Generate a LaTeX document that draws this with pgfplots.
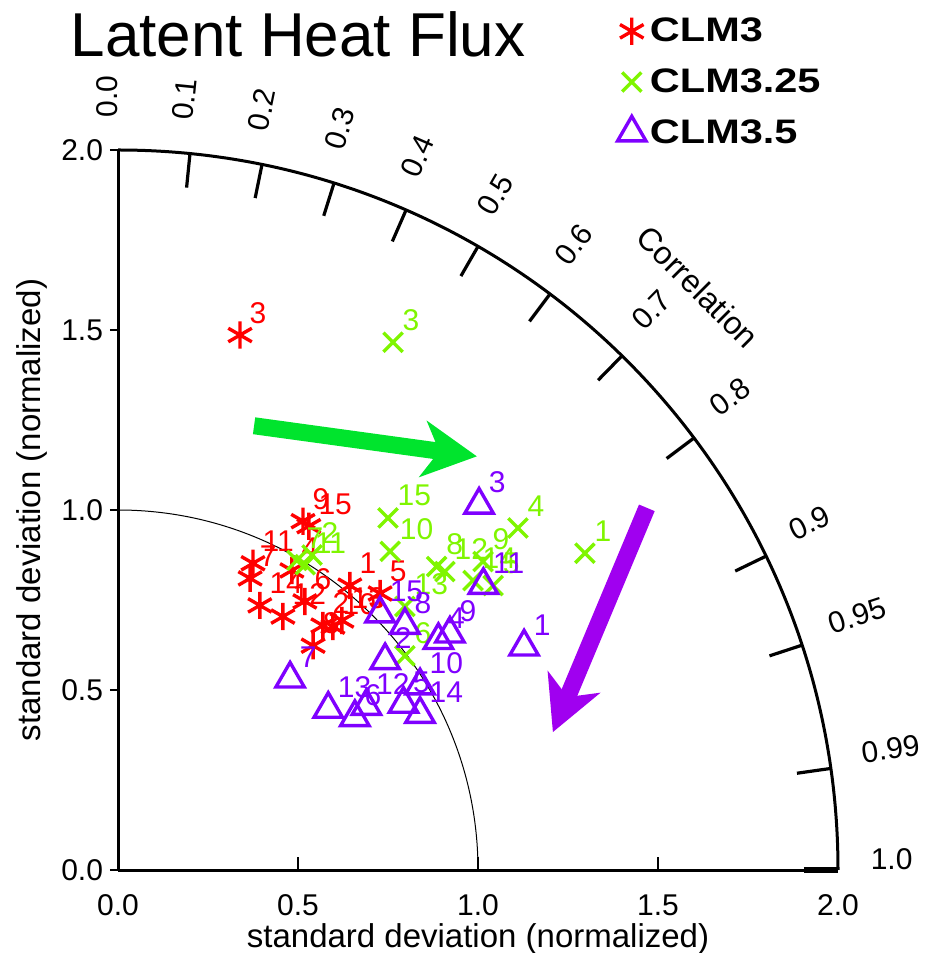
\documentclass[border=0pt]{standalone}
\usepackage{fontspec}
\setmainfont{Liberation Sans}
\newfontfamily\legfont[FakeStretch=1.22]{Liberation Sans}
\usepackage{pgfplots}
\usepackage{pgfplotstable}
\pgfplotsset{compat=1.18}
\usetikzlibrary{arrows.meta}
\definecolor{cred}{RGB}{255,0,0}
\definecolor{cgreen}{RGB}{127,245,0}
\definecolor{cpurple}{RGB}{127,0,255}
\definecolor{agreen}{RGB}{0,228,45}
\definecolor{apurple}{RGB}{160,0,240}

\pgfplotstableread{
x y lab
0.644 0.790 1
0.569 0.679 2
0.339 1.486 3
0.483 0.832 4
0.728 0.768 5
0.519 0.746 6
0.367 0.810 7
0.542 0.623 8
0.514 0.969 9
0.597 0.676 10
0.375 0.852 11
0.458 0.704 12
0.622 0.693 13
0.394 0.735 14
0.530 0.955 15
}\clmA

\pgfplotstableread{
x y lab
1.297 0.880 1
0.539 0.875 2
0.764 1.466 3
1.111 0.950 4
1.042 0.790 5
0.797 0.595 6
0.497 0.860 7
0.885 0.843 8
1.014 0.857 9
0.756 0.885 10
0.520 0.848 11
0.908 0.829 12
0.797 0.732 13
0.986 0.804 14
0.750 0.978 15
}\clmB

\pgfplotstableread{
x y lab
1.128 0.620 1
0.742 0.582 2
1.003 1.014 3
0.890 0.638 4
0.793 0.461 5
0.658 0.424 6
0.478 0.531 7
0.797 0.680 8
0.922 0.656 9
0.839 0.512 10
1.015 0.791 11
0.690 0.455 12
0.584 0.447 13
0.839 0.433 14
0.728 0.712 15
}\clmC

\begin{document}
\begin{tikzpicture}
\useasboundingbox (-59bp,-41.5bp) rectangle (404.5bp,435bp);
\begin{axis}[
  anchor=origin, at={(0,0)},
  x=180bp, y=180bp,
  xmin=0, xmax=2, ymin=0, ymax=2,
  clip=false,
  axis lines=left,
  axis line style={-, line width=1.5bp},
  xtick={0,0.5,1,1.5,2}, ytick={0,0.5,1,1.5,2},
  tick align=outside, major tick length=4bp,
  xtick style={draw=none},
  ytick style={line width=1bp, black},
  tick label style={font=\fontsize{15bp}{18bp}\selectfont},
  xticklabel style={yshift=-5bp},
  /pgf/number format/.cd, fixed, fixed zerofill, precision=1, assume math mode=true,
  /pgfplots/.cd,
  xlabel={standard deviation (normalized)},
  ylabel={standard deviation (normalized)},
  label style={font=\fontsize{16.5bp}{20bp}\selectfont},
  xlabel style={yshift=3bp},
  legend style={draw=none, fill=none, at={(axis cs:1.37,2.39)}, anchor=north west,
    font=\fontsize{17bp}{20bp}\legfont\bfseries, row sep=8bp},
  legend cell align=left,
]
\addplot[only marks, mark=asterisk, mark size=6.8bp, color=cred,
  mark options={line width=1.7bp},
  nodes near coords, point meta=explicit symbolic,
  every node near coord/.append style={anchor=south west, inner sep=0pt, xshift=4bp, yshift=5bp,
    font=\fontsize{15bp}{17bp}\selectfont, text=cred}]
  table[x=x, y=y, meta=lab] {\clmA};
\addlegendentry{CLM3}
\addplot[only marks, mark=x, mark size=6.8bp, color=cgreen,
  mark options={line width=1.7bp},
  nodes near coords, point meta=explicit symbolic,
  every node near coord/.append style={anchor=south west, inner sep=0pt, xshift=4bp, yshift=5bp,
    font=\fontsize{15bp}{17bp}\selectfont, text=cgreen}]
  table[x=x, y=y, meta=lab] {\clmB};
\addlegendentry{CLM3.25}
\addplot[only marks, mark=triangle, mark size=8.2bp, color=cpurple,
  mark options={line width=1.7bp},
  nodes near coords, point meta=explicit symbolic,
  every node near coord/.append style={anchor=south west, inner sep=0pt, xshift=4bp, yshift=5bp,
    font=\fontsize{15bp}{17bp}\selectfont, text=cpurple}]
  table[x=x, y=y, meta=lab] {\clmC};
\addlegendentry{CLM3.5}

% reference arcs
\draw[line width=0.5bp] (axis cs:0,1) arc[start angle=90, end angle=0, radius=180bp];
\draw[line width=1.5bp] (axis cs:0,2) arc[start angle=90, end angle=0, radius=360bp];
% bottom inner ticks
\pgfplotsinvokeforeach{0.5,1,1.5}{
  \draw[line width=1bp] (axis cs:#1,0) -- (axis cs:#1,0.035);
}
\draw[line width=3bp] (axis cs:1.905,0) -- (axis cs:2,0);
% correlation ticks and labels
\pgfplotsinvokeforeach{0.1,0.2,0.3,0.4,0.5,0.6,0.7,0.8,0.9,0.95,0.99}{
  \draw[line width=1.6bp] (axis cs:{1.905*#1},{1.905*sqrt(1-#1*#1)}) -- (axis cs:{2*#1},{2*sqrt(1-#1*#1)});
  \node[rotate={acos(#1)}, anchor=south west, inner sep=0pt, font=\fontsize{15bp}{18bp}\selectfont]
    at (axis cs:{2.09*#1},{2.09*sqrt(1-#1*#1)}) {#1};
}
\node[rotate=90, anchor=south west, inner sep=0pt, font=\fontsize{15bp}{18bp}\selectfont]
  at (axis cs:0,2.09) {0.0};
\node[anchor=south west, inner sep=0pt, font=\fontsize{15bp}{18bp}\selectfont]
  at (axis cs:2.09,0) {1.0};
\node[rotate=-45, font=\fontsize{16bp}{19bp}\selectfont] at (axis cs:1.611,1.62) {Correlation};
% title
\node[font=\fontsize{31bp}{37bp}\selectfont] at (axis cs:0.5,2.32) {Latent Heat Flux};
% arrows
\draw[line width=8.5bp, color=agreen, -{Stealth[length=27bp, width=28bp, inset=8bp]}]
  (axis cs:0.378,1.234) -- (axis cs:0.997,1.149);
\draw[line width=8.5bp, color=apurple, -{Stealth[length=27bp, width=28bp, inset=8bp]}]
  (axis cs:1.469,1.006) -- (axis cs:1.208,0.383);
\end{axis}
\end{tikzpicture}
\end{document}
